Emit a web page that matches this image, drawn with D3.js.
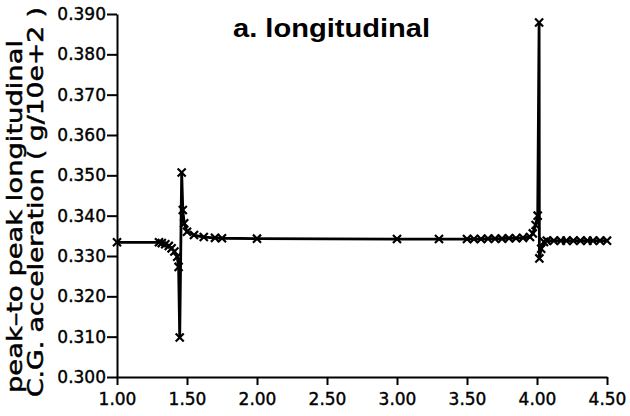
<!DOCTYPE html>
<html>
<head>
<meta charset="utf-8">
<script src="https://cdn.jsdelivr.net/npm/d3@7"></script>
<style>
  body { margin: 0; background: #fff; }
  svg { display: block; }
  .axis path, .axis line { stroke: #000; stroke-width: 2; }
  .axis text { font-family: 'DejaVu Sans', sans-serif; font-size: 17px; fill: #000; stroke: #000; stroke-width: 0.4; }
  .line { fill: none; stroke: #000; stroke-width: 2.8; stroke-linejoin: round; }
  .marker { fill: none; stroke: #000; stroke-width: 2.2; }
  .ylabel { font-family: 'DejaVu Sans', sans-serif; font-size: 21px; stroke: #000; stroke-width: 0.5; }
</style>
</head>
<body>
<svg id="wrapper" width="630" height="416"></svg>
<script>
// time (s) and peak-to-peak acceleration
const xValues = [1.00, 1.30, 1.32, 1.345, 1.37, 1.39, 1.41, 1.43, 1.44, 1.448,
  1.462, 1.47, 1.48, 1.50, 1.55, 1.62, 1.70, 1.75, 2.00, 3.00, 3.30,
  3.50, 3.55, 3.60, 3.65, 3.70, 3.75, 3.80, 3.85, 3.90, 3.95, 3.97, 3.99, 4.005,
  4.015, 4.017, 4.03, 4.05, 4.07, 4.12, 4.17, 4.21, 4.26, 4.31, 4.36, 4.40, 4.45, 4.50];
const yValues = [0.3334, 0.3334, 0.3332, 0.3329, 0.3325, 0.3319, 0.3311, 0.3298, 0.3273, 0.3098,
  0.3507, 0.3414, 0.3381, 0.3360, 0.3352, 0.3347, 0.3345, 0.3344, 0.3343, 0.3342, 0.3342,
  0.3342, 0.3342, 0.3342, 0.3343, 0.3343, 0.3343, 0.3344, 0.3344, 0.3345, 0.3347, 0.3356, 0.3377, 0.3400,
  0.3879, 0.3294, 0.3318, 0.3335, 0.3338, 0.3338, 0.3338, 0.3338, 0.3338, 0.3338, 0.3338, 0.3338, 0.3338, 0.3338];
const xTicks = [1.00, 1.50, 2.00, 2.50, 3.00, 3.50, 4.00, 4.50];
const yTicks = [0.300, 0.310, 0.320, 0.330, 0.340, 0.350, 0.360, 0.370, 0.380, 0.390];

const title = 'a. longitudinal';
const yLabel1 = 'peak\u2013to peak longitudinal';
const yLabel2 = 'C.G. acceleration ( g/10e+2 )';

const margin = {top:14, right:23, bottom:39, left:117};

function chart(){
    let width = 630 - margin.left - margin.right;
    let height = 416 - margin.top - margin.bottom;

    let data = xValues.map((x, i) => ({x: x, y: yValues[i]}));

    let svg = d3.select('#wrapper');
    let g = svg.append('g')
      .attr('transform', 'translate('+margin.left+','+margin.top+')');

    // set ranges
    let x = d3.scaleLinear().domain([1.0, 4.5]).range([0, width]);
    let y = d3.scaleLinear().domain([0.300, 0.390]).range([height, 0]);

    // x-axis
    g.append('g')
      .attr('class', 'axis axis-x')
      .attr('transform', 'translate(0,' + height + ')')
      .call(d3.axisBottom(x).tickValues(xTicks).tickFormat(d3.format('.2f'))
        .tickSize(8).tickSizeOuter(0).tickPadding(8));

    // y-axis
    g.append('g')
      .attr('class', 'axis axis-y')
      .call(d3.axisLeft(y).tickValues(yTicks).tickFormat(d3.format('.3f'))
        .tickSize(10).tickSizeOuter(0).tickPadding(1));

    // the line
    let valueLine = d3.line()
      .x(function(d) {return x(d.x);})
      .y(function(d) {return y(d.y);});

    g.append('path')
      .data([data])
      .attr('class', 'line')
      .attr('d', valueLine);

    // x markers
    let sym = d3.symbol().type(d3.symbolX).size(44);
    g.selectAll('.marker')
      .data(data)
      .enter().append('path')
      .attr('class', 'marker')
      .attr('transform', function(d) {return 'translate('+x(d.x)+','+y(d.y)+')';})
      .attr('d', sym);

    // title
    svg.append('text')
      .attr('x', 233)
      .attr('y', 37)
      .attr('textLength', 197)
      .attr('lengthAdjust', 'spacingAndGlyphs')
      .style('font-family', "'Liberation Sans', Arial, sans-serif")
      .style('font-weight', 'bold')
      .style('font-size', '26px')
      .text(title);

    // y-axis label, two lines
    svg.append('text')
      .attr('class', 'ylabel')
      .attr('transform', 'translate(22,393) rotate(-90)')
      .attr('textLength', 353)
      .attr('lengthAdjust', 'spacingAndGlyphs')
      .text(yLabel1);
    svg.append('text')
      .attr('class', 'ylabel')
      .attr('transform', 'translate(43,397) rotate(-90)')
      .attr('textLength', 390)
      .attr('lengthAdjust', 'spacingAndGlyphs')
      .text(yLabel2);
}

chart();
</script>
</body>
</html>
